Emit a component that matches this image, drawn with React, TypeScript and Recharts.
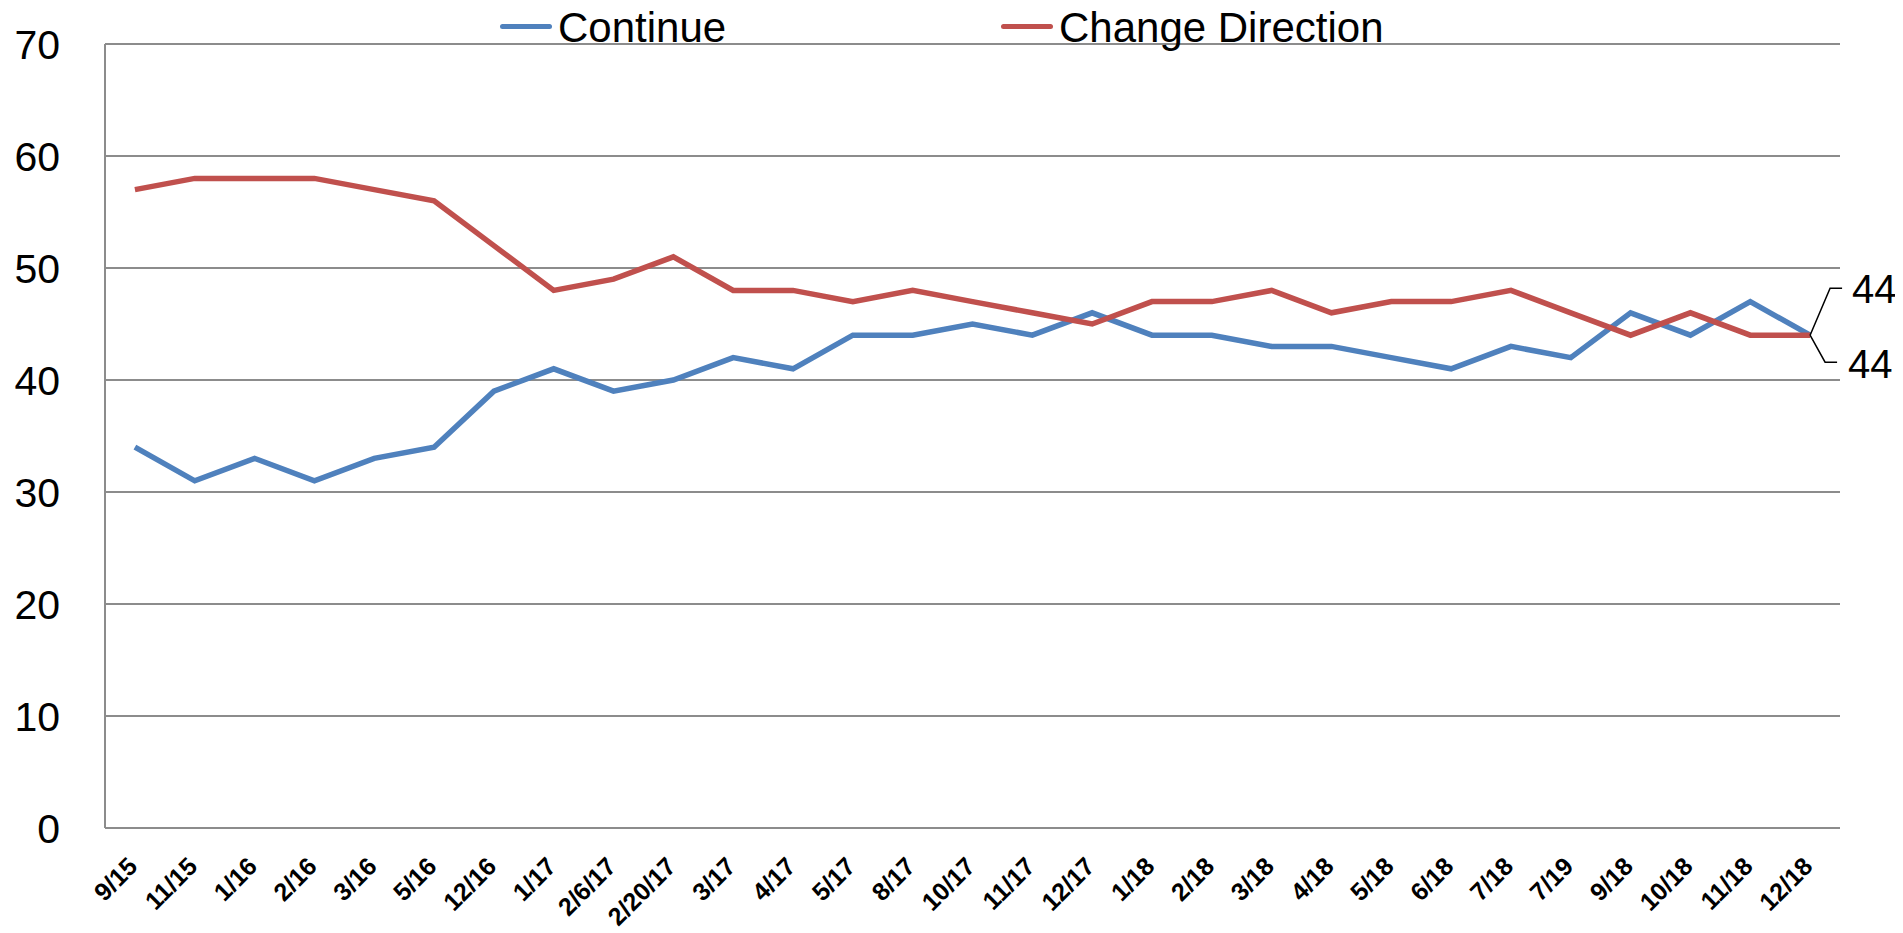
import React from 'react';
import { LineChart, Line, XAxis, YAxis, CartesianGrid, Legend } from 'recharts';

const categories = ['9/15', '11/15', '1/16', '2/16', '3/16', '5/16', '12/16', '1/17', '2/6/17', '2/20/17', '3/17', '4/17', '5/17', '8/17', '10/17', '11/17', '12/17', '1/18', '2/18', '3/18', '4/18', '5/18', '6/18', '7/18', '7/19', '9/18', '10/18', '11/18', '12/18'];
const continueValues = [34, 31, 33, 31, 33, 34, 39, 41, 39, 40, 42, 41, 44, 44, 45, 44, 46, 44, 44, 43, 43, 42, 41, 43, 42, 46, 44, 47, 44];
const changeValues = [57, 58, 58, 58, 57, 56, 52, 48, 49, 51, 48, 48, 47, 48, 47, 46, 45, 47, 47, 48, 46, 47, 47, 48, 46, 44, 46, 44, 44];
const yTicks = [0, 10, 20, 30, 40, 50, 60, 70];

const data = categories.map((label, i) => ({ label, cont: continueValues[i], change: changeValues[i] }));

const FONT = '"Liberation Sans", Arial, sans-serif';
const BLUE = '#4F81BD';
const RED = '#C0504D';
const GRID = '#8c8c8c';
const W = 1895;
const H = 925;
const MARGIN = { top: 36, right: 63, left: 0, bottom: 0 };
const YW = 97;
const plotW = W - MARGIN.left - MARGIN.right - YW;
const halfBand = plotW / categories.length / 2;

const XTick = (props: any) => {
  const { x, y, payload } = props;
  const px = x + 4;
  const py = y + 40;
  return (
    <text x={px} y={py} transform={`rotate(-45, ${px}, ${py})`} textAnchor="end" fontFamily={FONT} fontWeight="bold" fontSize={25} fill="#000">
      {payload.value}
    </text>
  );
};

const last = categories.length - 1;

const UpperLabel = (props: any) => {
  const { x, y, index, value } = props;
  if (index !== last) return null;
  return (
    <g>
      <polyline points={`${x},${y} ${x + 20},${y - 47} ${x + 32},${y - 47}`} fill="none" stroke="#000" strokeWidth={1.5} />
      <text x={x + 42} y={y - 46} dy="0.355em" fontFamily={FONT} fontSize={40} fill="#000">{value}</text>
    </g>
  );
};

const LowerLabel = (props: any) => {
  const { x, y, index, value } = props;
  if (index !== last) return null;
  return (
    <g>
      <polyline points={`${x},${y} ${x + 15},${y + 27} ${x + 27},${y + 27}`} fill="none" stroke="#000" strokeWidth={1.5} />
      <text x={x + 38} y={y + 29} dy="0.355em" fontFamily={FONT} fontSize={40} fill="#000">{value}</text>
    </g>
  );
};

const legendItems = [
  { name: 'Continue', color: BLUE, iconLeft: 492, textLeft: 550 },
  { name: 'Change Direction', color: RED, iconLeft: 993, textLeft: 1051 },
];

const LegendContent = () => (
  <div style={{ position: 'relative', width: W, height: 0 }}>
    {legendItems.map((it) => (
      <React.Fragment key={it.name}>
        <div style={{ position: 'absolute', left: it.iconLeft, top: 16, width: 52, height: 5, borderRadius: 3, background: it.color }} />
        <div style={{ position: 'absolute', left: it.textLeft, top: -1, fontFamily: FONT, fontSize: 42, lineHeight: '42px', color: '#000', whiteSpace: 'nowrap' }}>
          {it.name}
        </div>
      </React.Fragment>
    ))}
  </div>
);

export default function App() {
  return (
    <div style={{ width: W, height: H }}>
      <LineChart width={W} height={H} data={data} margin={MARGIN}>
        <CartesianGrid horizontal vertical={false} stroke={GRID} strokeWidth={2} />
        <XAxis
          dataKey="label"
          interval={0}
          padding={{ left: halfBand, right: halfBand }}
          height={H - 820}
          tickLine={false}
          tickSize={0}
          tickMargin={0}
          axisLine={{ stroke: GRID, strokeWidth: 2 }}
          tick={<XTick />}
        />
        <YAxis
          width={YW}
          domain={[0, 70]}
          ticks={yTicks}
          interval={0}
          tickLine={false}
          tickSize={0}
          tickMargin={45}
          axisLine={{ stroke: GRID, strokeWidth: 2 }}
          tick={{ fontFamily: FONT, fontSize: 41, fill: '#000' }}
        />
        <Legend
          content={<LegendContent />}
          wrapperStyle={{ position: 'absolute', top: 0, left: 0, width: W, height: 0, overflow: 'visible' }}
        />
        <Line type="linear" dataKey="cont" name="Continue" stroke={BLUE} strokeWidth={5.5} dot={false} isAnimationActive={false} label={<UpperLabel />} />
        <Line type="linear" dataKey="change" name="Change Direction" stroke={RED} strokeWidth={5.5} dot={false} isAnimationActive={false} label={<LowerLabel />} />
      </LineChart>
    </div>
  );
}
